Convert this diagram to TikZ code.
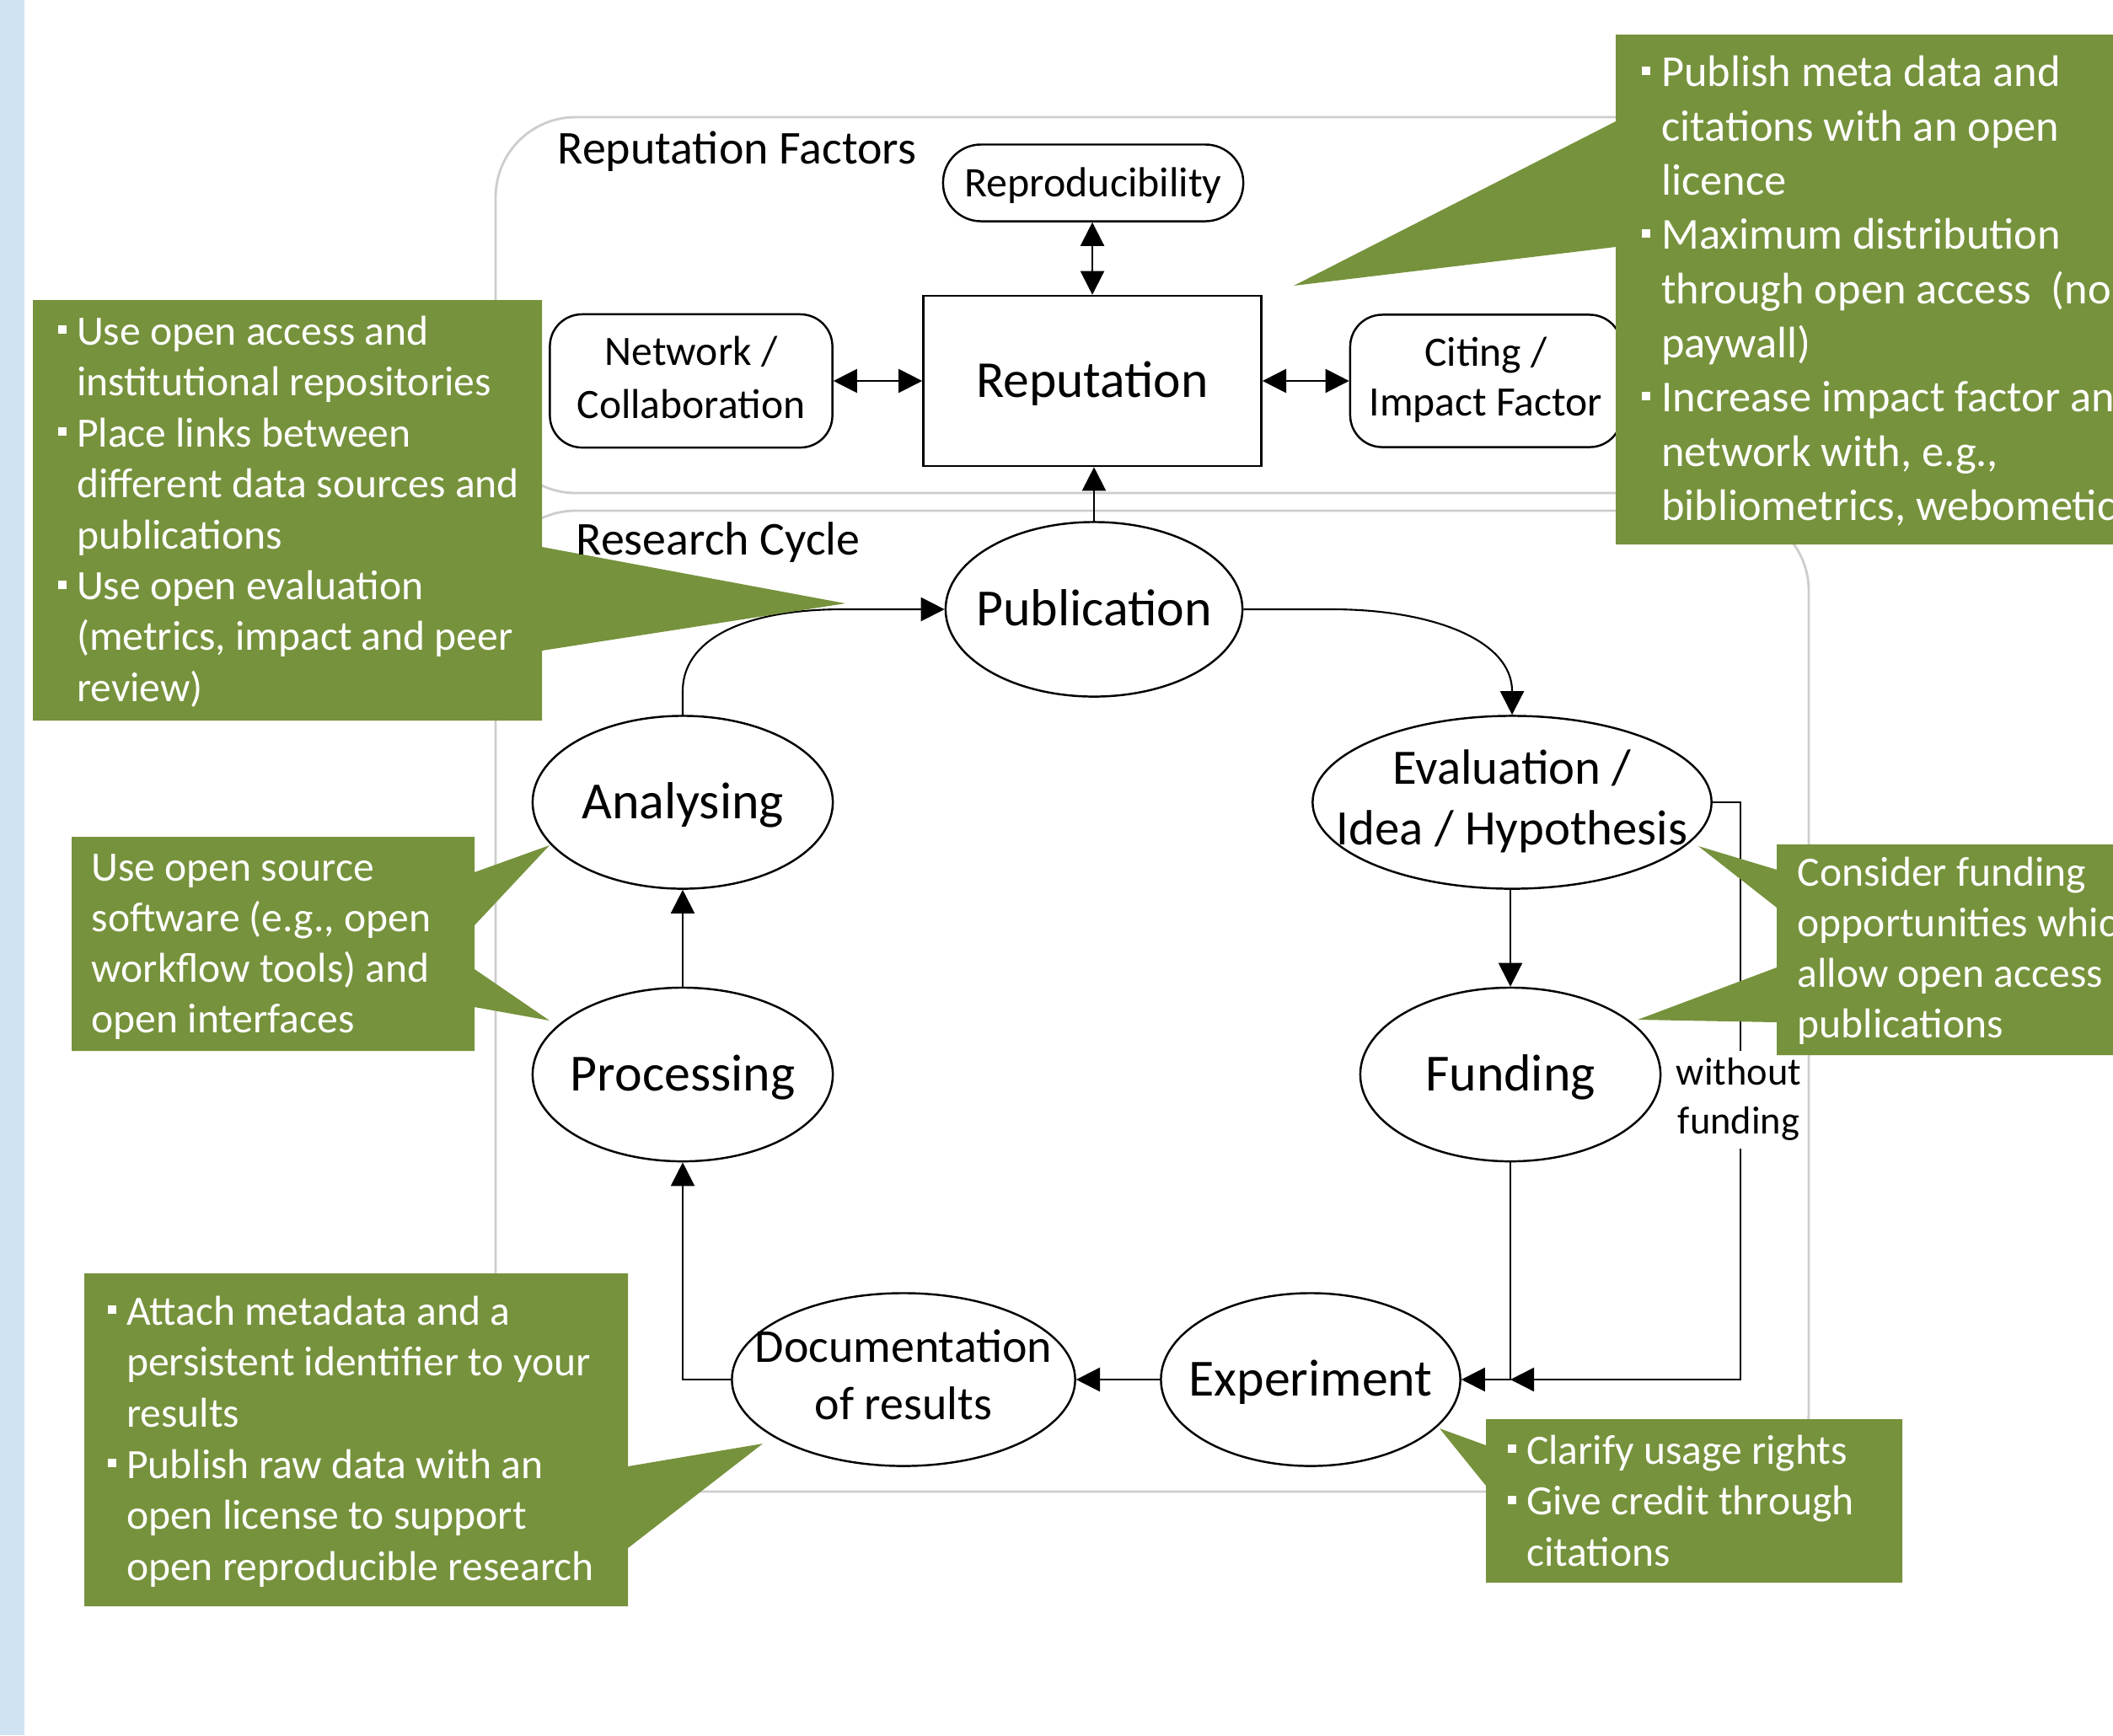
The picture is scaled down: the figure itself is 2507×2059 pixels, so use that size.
\documentclass[tikz,border=0pt]{standalone}
\usepackage{fontspec}
\setmainfont{Carlito}
\usetikzlibrary{arrows.meta,shapes.geometric}

\definecolor{callgreen}{RGB}{118,146,60}
\definecolor{sidebar}{RGB}{207,227,243}
\definecolor{framegray}{RGB}{205,205,205}

% square bullet with hanging indent, and the matching indent for follow-on lines
\newcommand{\sqbul}{\makebox[0.45em][l]{\rule[0.26em]{0.2em}{0.2em}}\strut}
\newcommand{\gapind}{\hspace*{0.45em}\strut}
% two centred lines whose width does not enlarge the surrounding shape
\newcommand{\stackpair}[2]{\makebox[0pt]{\begin{tabular}{@{}c@{}}#1\\#2\end{tabular}}}

\begin{document}
\begin{tikzpicture}[x=0.01cm,y=-0.01cm,
  stage/.style={ellipse, draw, line width=0.7pt, fill=white, inner sep=0pt},
  big/.style={font=\fontsize{17.6pt}{21pt}\selectfont, text height=11.3pt, text depth=0pt},
  factor/.style={rectangle, draw, line width=0.7pt, fill=white, inner sep=0pt},
  conn/.style={line width=0.6pt, -{Triangle[length=8pt,width=8pt]}},
  biconn/.style={line width=0.6pt, {Triangle[length=8pt,width=8pt]}-{Triangle[length=8pt,width=8pt]}},
  frame/.style={draw=framegray, line width=0.8pt, rounded corners=0.95cm},
  callout/.style={fill=callgreen},
  ctext/.style={text=white, align=left, inner sep=0pt, anchor=north west,
                font=\fontsize{14.1pt}{17.2pt}\selectfont},
  title/.style={anchor=base west, inner sep=0pt, font=\fontsize{15.9pt}{19pt}\selectfont}]

\useasboundingbox (0,0) rectangle (2507,2059);
\clip (0,0) rectangle (2507,2059);

% left side bar
\fill[sidebar] (0,0) rectangle (29,2059);

% group frames
\draw[frame] (588,139) rectangle (2146,585);
\draw[frame] (588,606) rectangle (2146,1770);

% reputation factors
\node[factor, minimum width=4.01cm, minimum height=2.02cm,
      font=\fontsize{17.5pt}{21pt}\selectfont, text height=11.3pt, text depth=0pt]
      (reputation) at (1296,452) {\makebox[0pt]{Reputation}};
\node[factor, rounded corners=0.45cm, minimum width=3.56cm, minimum height=0.91cm,
      font=\fontsize{14.2pt}{17pt}\selectfont, text height=9.1pt, text depth=0pt]
      (reproducibility) at (1297,217) {\makebox[0pt]{Reproducibility}};
\node[factor, rounded corners=0.38cm, minimum width=3.35cm, minimum height=1.58cm,
      font=\fontsize{14.1pt}{17.9pt}\selectfont]
      (network) at (820,452) {\stackpair{Network /}{Collaboration}};
\node[factor, rounded corners=0.38cm, minimum width=3.22cm, minimum height=1.57cm,
      font=\fontsize{14.1pt}{16.8pt}\selectfont]
      (citing) at (1763,452) {\stackpair{Citing /}{Impact Factor}};

% research cycle
\node[stage, big, minimum width=3.52cm, minimum height=2.07cm]
      (publication) at (1298,723) {\makebox[0pt]{Publication}};
\node[stage, minimum width=4.73cm, minimum height=2.05cm,
      font=\fontsize{16.7pt}{20.5pt}\selectfont]
      (evaluation) at (1794,952) {\stackpair{Evaluation /}{Idea / Hypothesis}};
\node[stage, big, minimum width=3.56cm, minimum height=2.06cm]
      (funding) at (1792,1275) {\makebox[0pt]{Funding}};
\node[stage, big, minimum width=3.55cm, minimum height=2.05cm]
      (experiment) at (1555,1637) {\makebox[0pt]{Experiment}};
\node[stage, minimum width=4.07cm, minimum height=2.05cm,
      font=\fontsize{15.9pt}{19.35pt}\selectfont]
      (documentation) at (1072,1637) {\stackpair{Documentation}{of results}};
\node[stage, big, minimum width=3.56cm, minimum height=2.06cm]
      (processing) at (810,1275) {\makebox[0pt]{Processing}};
\node[stage, big, minimum width=3.56cm, minimum height=2.05cm]
      (analysing) at (810,952) {\makebox[0pt]{Analysing}};

% connectors between the reputation factors
\draw[biconn] (reputation.north) -- (reputation.north |- reproducibility.south);
\draw[biconn] (network.east) -- (reputation.west);
\draw[biconn] (reputation.east) -- (citing.west);
\draw[conn] (publication.north) -- (publication.north |- reputation.south);

% connectors of the cycle
\draw[conn] (analysing.north) -- (810,820) .. controls (810,760) and (880,723) .. (1000,723)
            -- (publication.west);
\draw[conn] (publication.east) -- (1580,723) .. controls (1700,723) and (1794,760) .. (1794,820)
            -- (evaluation.north);
\draw[conn] (evaluation.south -| funding.north) -- (funding.north);
\coordinate (merge) at (funding.south |- experiment.east);
\coordinate (bypass) at (2065,952);
\draw[conn] (funding.south) |- (experiment.east);
\draw[conn] (evaluation.east) -- (bypass) |- (merge);
\draw[conn] (experiment.west) -- (documentation.east);
\draw[conn] (documentation.west) -| (processing.south);
\draw[conn] (processing.north) -- (analysing.south);

\node[fill=white, inner sep=0pt, font=\fontsize{13.2pt}{16.5pt}\selectfont]
      (nofunding) at (2063,1305) {\begin{tabular}{@{}c@{}}without\\funding\end{tabular}};

% green advice call-outs
\fill[callout] (39,356) -- (643,356) -- (643,649) -- (1003,716) -- (643,772)
               -- (643,855) -- (39,855) -- cycle;
\fill[callout] (1917,41) -- (2600,41) -- (2600,646) -- (1917,646) -- (1917,293)
               -- (1535,339) -- (1917,144) -- cycle;
\fill[callout] (85,993) -- (563,993) -- (563,1035) -- (652,1003) -- (563,1098)
               -- (563,1150) -- (652,1211) -- (563,1195) -- (563,1247) -- (85,1247) -- cycle;
\fill[callout] (100,1511) -- (745,1511) -- (745,1740) -- (905,1713) -- (745,1837)
               -- (745,1906) -- (100,1906) -- cycle;
\fill[callout] (2108,1002) -- (2600,1002) -- (2600,1252) -- (2108,1252) -- (2108,1213)
               -- (1943,1210) -- (2108,1148) -- (2108,1077) -- (2015,1004) -- (2108,1032) -- cycle;
\fill[callout] (1763,1684) -- (2257,1684) -- (2257,1878) -- (1763,1878) -- (1763,1763)
               -- (1708,1695) -- (1763,1715) -- cycle;

\node[ctext] (tipsrepository) at (68,366) {%
  \sqbul Use open access and\\
  \gapind institutional repositories\\
  \sqbul Place links between\\
  \gapind different data sources and\\
  \gapind publications\\
  \sqbul Use open evaluation\\
  \gapind (metrics, impact and peer\\
  \gapind review)};
\node[ctext, font=\fontsize{14.9pt}{18.3pt}\selectfont] (tipspublish) at (1947,57) {%
  \sqbul Publish meta data and\\
  \gapind citations with an open\\
  \gapind licence\\
  \sqbul Maximum distribution\\
  \gapind through open access\ \ (no\\
  \gapind paywall)\\
  \sqbul Increase impact factor and\\
  \gapind network with, e.g.,\\
  \gapind bibliometrics, webometics};
\node[ctext, font=\fontsize{14.1pt}{17.07pt}\selectfont] (tipssoftware) at (108,1003) {%
  \strut Use open source\\
  \strut software (e.g., open\\
  \strut workflow tools) and\\
  \strut open interfaces};
\node[ctext, font=\fontsize{14.1pt}{17.24pt}\selectfont] (tipsdata) at (127,1529) {%
  \sqbul Attach metadata and a\\
  \gapind persistent identifier to your\\
  \gapind results\\
  \sqbul Publish raw data with an\\
  \gapind open license to support\\
  \gapind open reproducible research};
\node[ctext, font=\fontsize{14.1pt}{17.07pt}\selectfont] (tipsfunding) at (2132,1009) {%
  \strut Consider funding\\
  \strut opportunities which\\
  \strut allow open access\\
  \strut publications};
\node[ctext] (tipsrights) at (1788,1694) {%
  \sqbul Clarify usage rights\\
  \sqbul Give credit through\\
  \gapind citations};

% frame titles
\node[title] (reputationtitle) at (661,194) {Reputation Factors};
\node[title] (cycletitle) at (683,658) {Research Cycle};

\end{tikzpicture}
\end{document}
